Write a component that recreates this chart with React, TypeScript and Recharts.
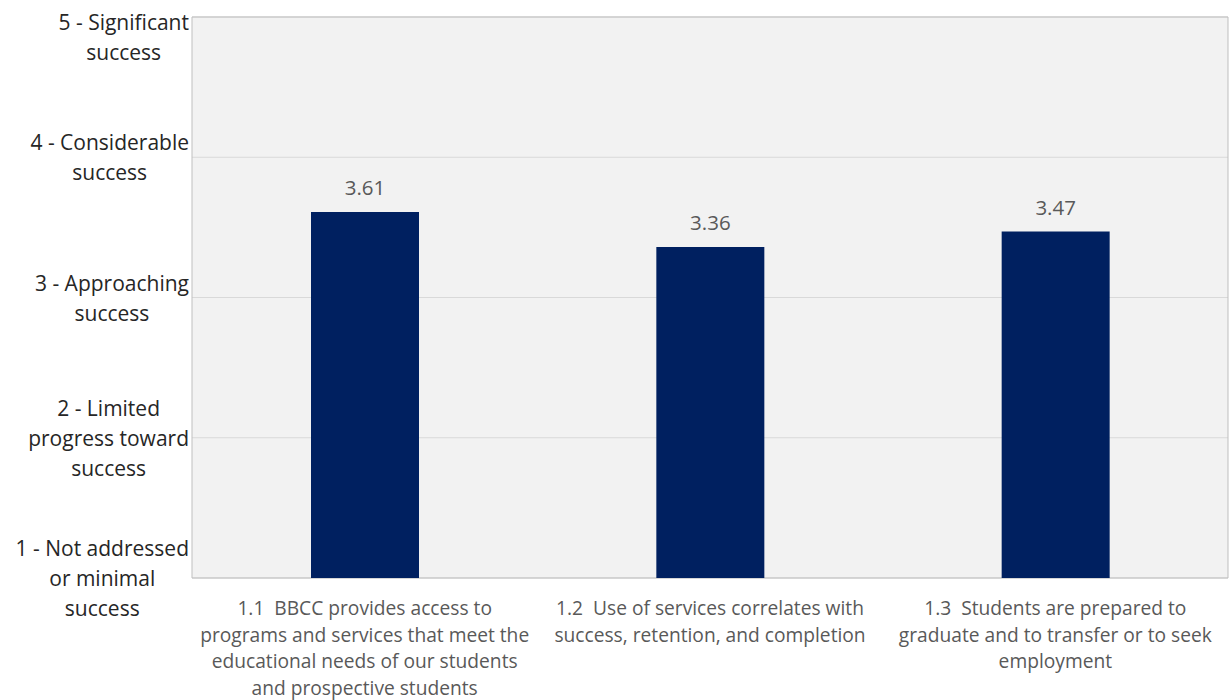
import React from "react";
import { BarChart, Bar, XAxis, YAxis, CartesianGrid, ReferenceArea, LabelList } from "recharts";

const categories = [
  "1.1  BBCC provides access to\nprograms and services that meet the\neducational needs of our students\nand prospective students",
  "1.2  Use of services correlates with\nsuccess, retention, and completion",
  "1.3  Students are prepared to\ngraduate and to transfer or to seek\nemployment",
];
const scores = [3.61, 3.36, 3.47];
const yTicks = [1, 2, 3, 4, 5];
const yTickLabels: Record<number, string> = {
  1: "1 - Not addressed\nor minimal\nsuccess",
  2: "2 - Limited\nprogress toward\nsuccess",
  3: "3 - Approaching\nsuccess",
  4: "4 - Considerable\nsuccess",
  5: "5 - Significant\nsuccess",
};

const data = categories.map((c, i) => ({ name: c, value: scores[i] }));

const FONT = "'Open Sans', Lato, sans-serif";
const Y_FS = 21;
const Y_LH = 30;
const X_FS = 19.2;
const X_LH = 26.7;

let ctx: CanvasRenderingContext2D | null = null;
function measure(text: string, size: number) {
  if (!ctx) ctx = document.createElement("canvas").getContext("2d");
  if (!ctx) return text.length * size * 0.55;
  ctx.font = `${size}px 'Open Sans'`;
  return ctx.measureText(text).width;
}

const YTick = (props: any) => {
  const { x, y, payload } = props;
  const label = yTickLabels[payload.value] || String(payload.value);
  const lines = label.split("\n");
  const w = Math.max(...lines.map((l) => measure(l, Y_FS)));
  const cx = x - w / 2;
  let top = y - (lines.length * Y_LH) / 2;
  if (top < 7) top = 7;
  return (
    <g>
      {lines.map((l, i) => (
        <text
          key={i}
          x={cx}
          y={top + Y_LH * i + Y_LH / 2}
          textAnchor="middle"
          dominantBaseline="central"
          fill="#262626"
          fontSize={Y_FS}
          fontFamily={FONT}
        >
          {l}
        </text>
      ))}
    </g>
  );
};

const XTick = (props: any) => {
  const { x, y, payload } = props;
  const lines = String(payload.value).split("\n");
  return (
    <g>
      {lines.map((l, i) => (
        <text
          key={i}
          x={x}
          y={y + 29.5 + X_LH * i}
          textAnchor="middle"
          dominantBaseline="central"
          fill="#595959"
          fontSize={X_FS}
          fontFamily={FONT}
          style={{ whiteSpace: "pre" }}
        >
          {l}
        </text>
      ))}
    </g>
  );
};

export default function App() {
  return (
    <div style={{ position: "absolute", left: 0, top: 0, width: 1230, height: 700, background: "#fff" }}>
      <BarChart
        width={1230}
        height={700}
        data={data}
        margin={{ top: 17, right: 2, bottom: 0, left: 0 }}
      >
        <CartesianGrid horizontal vertical={false} stroke="#d9d9d9" fill="#f2f2f2" />
        <XAxis
          dataKey="name"
          axisLine={false}
          tickLine={false}
          tickSize={0}
          tickMargin={0}
          height={122}
          interval={0}
          tick={<XTick />}
        />
        <YAxis
          type="number"
          domain={[1, 5]}
          ticks={yTicks}
          axisLine={false}
          tickLine={false}
          tickSize={0}
          tickMargin={3}
          width={192}
          tick={<YTick />}
        />
        <ReferenceArea y1={1} y2={5} fill="none" stroke="#bfbfbf" strokeWidth={1} />
        <Bar dataKey="value" fill="#002060" barSize={108} isAnimationActive={false}>
          <LabelList
            dataKey="value"
            position="top"
            offset={17}
            fill="#595959"
            fontSize={20.5}
            fontFamily={FONT}
            formatter={(v: any) => Number(v).toFixed(2)}
          />
        </Bar>
      </BarChart>
    </div>
  );
}
